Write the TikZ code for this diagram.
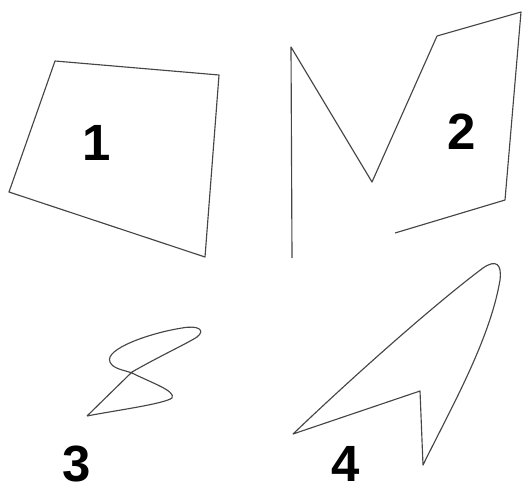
\documentclass[tikz,border=0pt]{standalone}
\usepackage{fontspec}
\setmainfont{Liberation Sans}
\usepackage{tikz}
\usetikzlibrary{positioning}
\definecolor{penline}{RGB}{70,70,70}

\begin{document}
\begin{tikzpicture}[x=0.02cm, y=-0.02cm,
  outline/.style={draw=penline, line width=0.65pt, line join=round},
  numlabel/.style={font=\fontsize{29}{29}\selectfont\bfseries, inner sep=0pt, text depth=0pt}]
\useasboundingbox (0,0) rectangle (523,486);
% 1: quadrilateral
\draw[outline] (55,61) -- (219,75) -- (205,257) -- (9,192) -- cycle;
\node[numlabel] (one) at (97,143) {1};
% 2: open zigzag
\draw[outline] (292,258) -- (291,47) -- (372,182) -- (437,36) -- (521,12) -- (505,200) -- (395,233);
\node[numlabel] (two) at (462,132) {2};
% 3: self-crossing loop
\draw[outline] (87,416) -- (132,372)
  .. controls (158,357) and (188,343) .. (197,337)
  .. controls (206,330) and (198,325) .. (182,328)
  .. controls (150,333) and (104,349) .. (110,362)
  .. controls (113,369) and (124,370) .. (132,373)
  .. controls (152,383) and (176,391) .. (172,398)
  .. controls (164,404) and (112,411) .. (87,416);
\node[numlabel] (three) at (77,464) {3};
% 4: arrow head
\draw[outline] (293,434)
  .. controls (360,370) and (440,300) .. (483,268)
  .. controls (496,259) and (502,264) .. (500,280)
  .. controls (490,340) and (450,410) .. (423,465)
  -- (420,391) -- cycle;
\node[numlabel] (four) at (346,464) {4};
\end{tikzpicture}
\end{document}
